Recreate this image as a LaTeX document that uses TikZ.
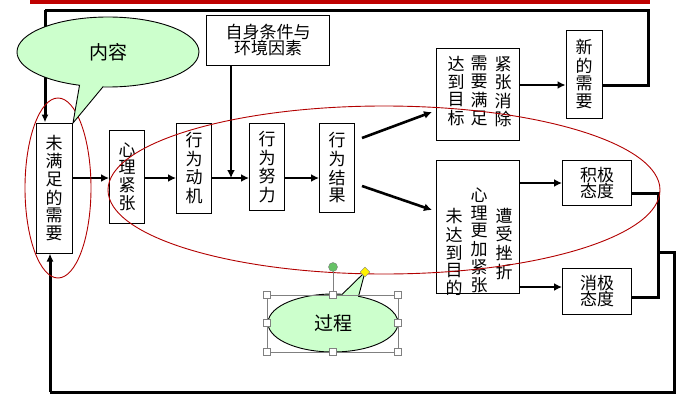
\documentclass[tikz,border=0pt]{standalone}
\usepackage{fontspec}
\setmainfont{Noto Sans CJK SC}
\usetikzlibrary{arrows.meta,shapes.callouts,shapes.geometric}
\tikzset{>=Latex}
\newcommand{\vtxt}[1]{\shortstack{#1}}

\begin{document}
\begin{tikzpicture}[x=1pt,y=-1pt,
    box/.style={draw, line width=1pt, fill=white, inner sep=2pt, align=center, font=\fontsize{17}{19}\selectfont},
    col/.style={font=\fontsize{17}{19}\selectfont, anchor=north, inner sep=0pt},
    flow/.style={line width=2.6pt, -{Latex[length=8pt,width=8pt]}},
    loop/.style={line width=3pt},
    handle/.style={draw=gray, fill=white, minimum size=7pt, inner sep=0pt}]

    \useasboundingbox (0,0) rectangle (689,407);
    \fill[red!75!black] (30,0) rectangle (650,4);

    % main chain
    \node[box, minimum width=36pt, minimum height=130pt] (need) at (54,188) {\vtxt{未\\满\\足\\的\\需\\要}};
    \node[box, minimum width=35pt, minimum height=93pt] (tense) at (127,177) {\vtxt{心\\理\\紧\\张}};
    \node[box, minimum width=35pt, minimum height=90pt] (motive) at (194,168) {\vtxt{行\\为\\动\\机}};
    \node[box, minimum width=35pt, minimum height=87pt] (effort) at (267,167) {\vtxt{行\\为\\努\\力}};
    \node[box, minimum width=35pt, minimum height=89pt] (result) at (337,168) {\vtxt{行\\为\\结\\果}};
    \node[box, minimum width=123pt, minimum height=50pt] (env) at (268,40) {自身条件与\\[-3pt]环境因素};

    % two outcome boxes
    \node[box, minimum width=83pt, minimum height=92pt] (reach) at (478,94) {};
    \node[col] at (456,56) {\vtxt{达\\到\\目\\标}};
    \node[col] at (479,56) {\vtxt{需\\要\\满\\足}};
    \node[col] at (503,56) {\vtxt{紧\\张\\消\\除}};
    \node[box, minimum width=83pt, minimum height=133pt] (fail) at (478,227) {};
    \node[col] at (454,208) {\vtxt{未\\达\\到\\目\\的}};
    \node[col] at (479,188) {\vtxt{心\\理\\更\\加\\紧\\张}};
    \node[col] at (504,208) {\vtxt{遭\\受\\挫\\折}};

    \node[box, minimum width=36pt, minimum height=88pt] (newneed) at (584,74) {\vtxt{新\\的\\需\\要}};
    \node[box, minimum width=69pt, minimum height=45pt] (pos) at (597,183) {积极\\[-3pt]态度};
    \node[box, minimum width=69pt, minimum height=46pt] (neg) at (597,291) {消极\\[-3pt]态度};

    % arrows
    \draw[flow] (need.east |- 0,178) -- (tense.west |- 0,178);
    \draw[flow] (tense.east |- 0,178) -- (motive.west |- 0,178);
    \draw[flow] (motive.east |- 0,178) -- (effort.west |- 0,178);
    \draw[flow] (effort.east |- 0,178) -- (result.west |- 0,178);
    \draw[flow] (env.south -| 231,0) -- (231,178);
    \draw[flow] (362,138) -- (432,112);
    \draw[flow] (362,186) -- (432,210);
    \draw[flow] (reach.east |- 0,85) -- (newneed.west |- 0,85);
    \draw[flow] (fail.east |- 0,183) -- (pos.west |- 0,183);
    \draw[flow] (fail.east |- 0,287) -- (neg.west |- 0,287);

    % feedback loops
    \draw[loop] (newneed.east |- 0,85) -- (648,85) -- (648,10) -- (45,10);
    \draw[loop,-{Latex[length=8pt,width=7pt]}] (45,10) -- (need.north -| 45,0);
    \draw[loop] (pos.east |- 0,193) -- (658,193) -- (658,297) -- (neg.east |- 0,297);
    \draw[loop] (658,252) -- (674,252) -- (674,392) -- (50,392);
    \draw[loop,-{Latex[length=8pt,width=7pt]}] (50,392) -- (need.south -| 50,0);

    % red ellipses
    \draw[red!70!black, line width=0.9pt] (384,190) ellipse (276 and 84);
    \draw[red!70!black, line width=0.9pt] (58,188) ellipse (33 and 90);

    % callouts
    \node[ellipse callout, draw, line width=0.9pt, fill=green!20, minimum width=182pt, minimum height=70pt,
        callout absolute pointer={(73,123)}, font=\fontsize{19}{21}\selectfont] (content) at (108,52) {内容};
    \node[ellipse callout, draw, line width=0.9pt, fill=green!20, minimum width=130pt, minimum height=58pt,
        callout absolute pointer={(365,272)}, font=\fontsize{19}{21}\selectfont] (process) at (333,323) {过程};
    \draw[gray] (267,295) rectangle (398,352);
    \draw[gray] (333,267) -- (333,295);
    \foreach \px/\py in {267/295,333/295,398/295,267/323,398/323,267/352,333/352,398/352}
        \node[handle] at (\px,\py) {};
    \node[circle, draw=gray, fill=green!60!black!60, minimum size=9pt, inner sep=0pt] at (333,267) {};
    \node[diamond, draw=gray, fill=yellow, minimum size=10pt, inner sep=0pt] at (365,272) {};
\end{tikzpicture}
\end{document}
